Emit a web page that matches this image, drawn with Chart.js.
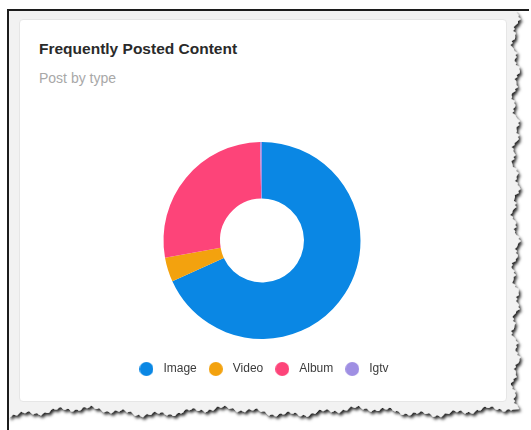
<!DOCTYPE html>
<html>
<head>
<meta charset="utf-8">
<script src="https://cdn.jsdelivr.net/npm/chart.js@4.4.1/dist/chart.umd.min.js"></script>
<style>
  html, body { margin: 0; padding: 0; background: #fff; width: 531px; height: 430px; overflow: hidden; position: relative; font-family: "Liberation Sans", Arial, sans-serif; }
  #paper { position: absolute; left: 0; top: 0; }
  .rule { position: absolute; background: #1c1c1c; }
  #card { position: absolute; left: 19px; top: 19px; width: 486px; height: 381px; background: #fff; border: 1px solid #e6e6e6; border-radius: 4px; }
  #title { position: absolute; left: 39px; top: 41px; font-size: 15.5px; line-height: 1; font-weight: bold; color: #2a2a2a; white-space: nowrap; }
  #subtitle { position: absolute; left: 39px; top: 71px; font-size: 14px; line-height: 1; color: #a8a8a8; white-space: nowrap; }
  #wrap { position: absolute; left: 18px; top: 126px; width: 488px; height: 259px; }
</style>
</head>
<body>
<svg id="paper" width="531" height="430" xmlns="http://www.w3.org/2000/svg">
  <defs>
    <filter id="edgeShadow" x="-5%" y="-5%" width="115%" height="115%">
      <feDropShadow dx="2" dy="2.5" stdDeviation="1.6" flood-color="#000" flood-opacity="0.85"/>
    </filter>
  </defs>
  <path id="sheet" fill="#f2f2f2" filter="url(#edgeShadow)"/>
</svg>
<div class="rule" style="left:7px;top:9px;width:522px;height:2px;"></div>
<div class="rule" style="left:7px;top:9px;width:2px;height:421px;"></div>
<div id="card"></div>
<div id="title">Frequently Posted Content</div>
<div id="subtitle">Post by type</div>
<div id="wrap"><canvas id="chart"></canvas></div>
<script>
// Post types and how many posts of each type
const categories = ['Image', 'Video', 'Album', 'Igtv'];
const postCounts = [682, 40, 275, 3];
const sliceColors = ['#0a87e4', '#f3a20e', '#fd4479', '#9f8fe3'];

// Torn paper outline for the screenshot frame (right and bottom edges)
(function drawSheet() {
  const rightEdge = y => 515.5 + 2.6 * Math.sin(y * 0.11) + 1.9 * Math.sin(y * 0.37 + 0.7) + 1.2 * Math.sin(y * 1.3 + 2);
  const bottomEdge = x => 411.5 + 3.0 * Math.sin(x * 0.045 + 1) + 2.0 * Math.sin(x * 0.19) + 1.3 * Math.sin(x * 0.8 + 0.5);
  let d = 'M 9 11 L ' + rightEdge(11).toFixed(1) + ' 11';
  for (let y = 13; y <= 409; y += 2) d += ' L ' + rightEdge(y).toFixed(1) + ' ' + y;
  for (let x = 513; x >= 9; x -= 2) d += ' L ' + x + ' ' + bottomEdge(x).toFixed(1);
  d += ' L 9 ' + bottomEdge(9).toFixed(1) + ' Z';
  document.getElementById('sheet').setAttribute('d', d);
})();

// Filled dots used as legend markers
function dot(color) {
  const c = document.createElement('canvas');
  c.width = 14; c.height = 14;
  const g = c.getContext('2d');
  g.fillStyle = color;
  g.beginPath();
  g.arc(7, 7, 7, 0, Math.PI * 2);
  g.fill();
  return c;
}
const legendDots = sliceColors.map(dot);

const defaultLabels = Chart.overrides.doughnut.plugins.legend.labels.generateLabels;

new Chart(document.getElementById('chart'), {
  type: 'doughnut',
  data: {
    labels: categories,
    datasets: [{
      data: postCounts,
      backgroundColor: sliceColors,
      borderWidth: 0,
      radius: 98.5,
      cutout: '42.6%'
    }]
  },
  options: {
    responsive: true,
    maintainAspectRatio: false,
    animation: false,
    events: [],
    layout: { padding: { left: 0, right: 0, top: 0, bottom: 0 } },
    plugins: {
      tooltip: { enabled: false },
      legend: {
        position: 'bottom',
        labels: {
          usePointStyle: true,
          pointStyleWidth: 22,
          boxHeight: 12,
          padding: 8,
          color: '#3c3c3c',
          font: { family: '"Liberation Sans", Arial, sans-serif', size: 12 },
          generateLabels(chart) {
            return defaultLabels(chart).map((item, i) => Object.assign(item, { pointStyle: legendDots[i] }));
          }
        }
      }
    }
  }
});
</script>
</body>
</html>
